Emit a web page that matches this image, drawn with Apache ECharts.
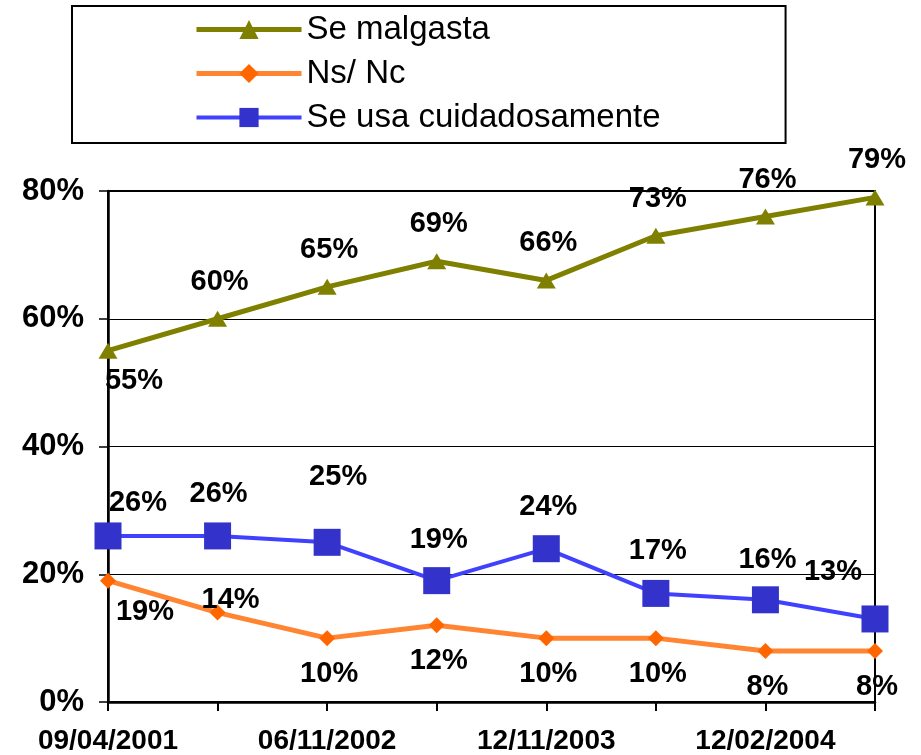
<!DOCTYPE html>
<html>
<head>
<meta charset="utf-8">
<title>Se malgasta / Ns/ Nc / Se usa cuidadosamente</title>
<script src="https://cdn.jsdelivr.net/npm/echarts@6/dist/echarts.min.js"></script>
<style>
  html, body { margin: 0; padding: 0; background: #fff; }
  #chart { width: 921px; height: 755px; }
</style>
</head>
<body>
<div id="chart"></div>
<script>
// fechas de las encuestas (solo se leen las etiquetas alternas)
const categories = ['09/04/2001', '', '06/11/2002', '', '12/11/2003', '', '12/02/2004', '']
const yTicks = [0, 20, 40, 60, 80]

const seMalgasta = [55, 60, 65, 69, 66, 73, 76, 79]
const nsNc = [19, 14, 10, 12, 10, 10, 8, 8]
const seUsaCuidadosamente = [26, 26, 25, 19, 24, 17, 16, 13]

// desplazamiento de cada etiqueta respecto a su punto (px)
const malgastaOffsets = [[26, 30], [2, -37], [2, -37], [2, -37], [2, -37], [2, -37], [2, -37], [2, -37]]
const nsNcOffsets = [[37, 31], [13, -13], [2, 36], [2, 36], [2, 36], [2, 36], [2, 36], [2, 36]]
const cuidadoOffsets = [[30, -33], [1, -42], [11, -65], [2, -41], [2, -42], [2, -42], [2, -40], [-42, -47]]

const FONT = "'Liberation Sans', Arial, sans-serif"

const withLabels = (values, offsets) => values.map((v, i) => ({
  value: v,
  label: { offset: offsets[i] }
}))

const dataLabel = {
  show: true,
  position: 'inside',
  formatter: '{c}%',
  color: '#000',
  fontFamily: FONT,
  fontWeight: 'bold',
  fontSize: 29
}

const chart = echarts.init(document.getElementById('chart'))

chart.setOption({
  animation: false,
  backgroundColor: '#fff',
  tooltip: { trigger: 'axis' },
  legend: {
    orient: 'vertical',
    left: 72,
    top: 6,
    padding: [7, 125, 9, 122],
    itemGap: 11,
    itemWidth: 105,
    itemHeight: 24,
    borderColor: '#000',
    borderWidth: 2,
    textStyle: {
      color: '#000',
      fontFamily: FONT,
      fontSize: 33
    },
    data: [
      { name: 'Se malgasta', lineStyle: { width: 5 } },
      { name: 'Ns/ Nc', lineStyle: { width: 5 } },
      { name: 'Se usa cuidadosamente', lineStyle: { width: 4 } }
    ]
  },
  grid: {
    left: 108,
    right: 46,
    top: 191,
    bottom: 52,
    show: true,
    borderColor: '#000',
    borderWidth: 2
  },
  xAxis: {
    type: 'category',
    boundaryGap: false,
    data: categories,
    axisLine: { lineStyle: { color: '#000', width: 2.5 } },
    axisTick: { show: true, interval: 0, length: 9, lineStyle: { color: '#000', width: 2 } },
    axisLabel: {
      interval: 1,
      margin: 25,
      color: '#000',
      fontFamily: FONT,
      fontWeight: 'bold',
      fontSize: 28
    },
    splitLine: { show: false }
  },
  yAxis: {
    type: 'value',
    min: yTicks[0],
    max: yTicks[yTicks.length - 1],
    interval: yTicks[1] - yTicks[0],
    axisLine: { show: true, lineStyle: { color: '#000', width: 2.5 } },
    axisTick: { show: true, length: 9, lineStyle: { color: '#000', width: 1.5 } },
    axisLabel: {
      margin: 24,
      formatter: '{value}%',
      color: '#000',
      fontFamily: FONT,
      fontWeight: 'bold',
      fontSize: 31
    },
    splitLine: { lineStyle: { color: '#000', width: 1.2 } }
  },
  series: [
    {
      name: 'Se malgasta',
      type: 'line',
      data: withLabels(seMalgasta, malgastaOffsets),
      symbol: 'triangle',
      symbolSize: [19, 16],
      itemStyle: { color: '#808000' },
      lineStyle: { color: '#808000', width: 5 },
      label: dataLabel
    },
    {
      name: 'Ns/ Nc',
      type: 'line',
      data: withLabels(nsNc, nsNcOffsets),
      symbol: 'diamond',
      symbolSize: 16,
      itemStyle: { color: '#FF6600' },
      lineStyle: { color: '#FF8533', width: 5 },
      label: dataLabel
    },
    {
      name: 'Se usa cuidadosamente',
      type: 'line',
      data: withLabels(seUsaCuidadosamente, cuidadoOffsets),
      symbol: 'rect',
      symbolSize: 27,
      itemStyle: { color: '#3333CC' },
      lineStyle: { color: '#4040FF', width: 4 },
      label: dataLabel
    }
  ]
})

window.addEventListener('resize', () => chart.resize())
</script>
</body>
</html>
